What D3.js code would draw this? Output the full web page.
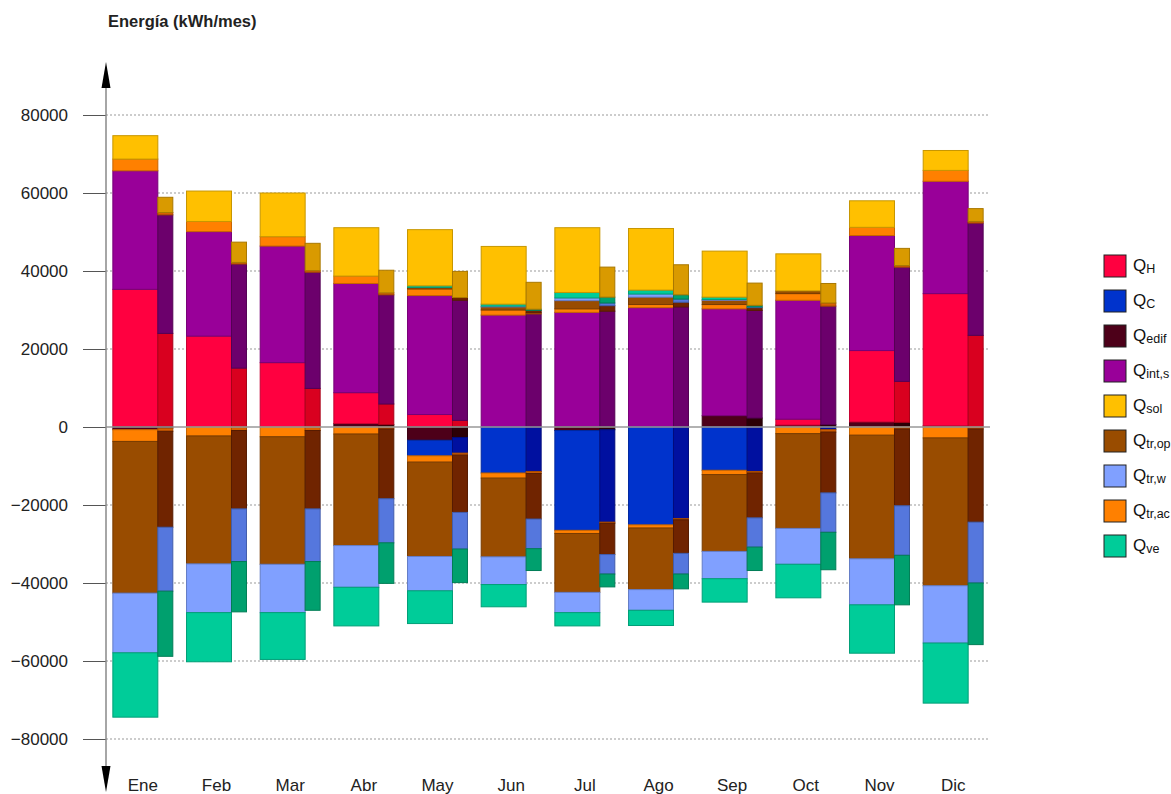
<!DOCTYPE html>
<html>
<head>
<meta charset="utf-8">
<script src="https://cdn.jsdelivr.net/npm/d3@7"></script>
<style>
  body { margin: 0; background: #fff; }
  svg { display: block; font-family: "Liberation Sans", Arial, sans-serif; }
</style>
</head>
<body>
<svg id="chart"></svg>
<script>
const months = ["Ene", "Feb", "Mar", "Abr", "May", "Jun", "Jul", "Ago", "Sep", "Oct", "Nov", "Dic"];
const yTicks = [-80000, -60000, -40000, -20000, 0, 20000, 40000, 60000, 80000];

// series keys and legend labels (Q + subscript)
const keys = ["QH", "QC", "Qedif", "Qint", "Qsol", "Qtrop", "Qtrw", "Qtrac", "Qve"];
const subs = ["H", "C", "edif", "int,s", "sol", "tr,op", "tr,w", "tr,ac", "ve"];
const mainColors = ["#ff0040", "#0033cc", "#4d0019", "#990099", "#ffc000", "#994c00", "#80a0ff", "#ff8000", "#00cc99"];
const sideColors = ["#d9001f", "#0010a0", "#2b0006", "#6c006c", "#d99a00", "#702400", "#5577dd", "#d86000", "#00a06e"];

// wide bar: gains (+) and losses (-), kWh/mes
const mainQH       = [35300, 23300, 16500, 7900, 3200, 0, 0, 0, 0, 1500, 18300, 33900];
const mainQC       = [0, 0, 0, 0, -4000, -11800, -25600, -25100, -11100, 0, 0, 0];
const mainQedifPos = [0, 0, 0, 900, 0, 0, 0, 0, 2900, 500, 1300, 300];
const mainQedifNeg = [-700, 0, 0, 0, -3400, 0, -900, 0, 0, 0, 0, 0];
const mainQint     = [30400, 26800, 29900, 28000, 30500, 28700, 29400, 30600, 27400, 30500, 29500, 28800];
const mainQsol     = [6000, 7800, 11200, 12400, 14400, 14800, 16600, 15800, 11800, 9500, 6800, 5100];
const mainQtropPos = [0, 0, 0, 0, 400, 800, 2100, 1900, 1100, 700, 0, 0];
const mainQtropNeg = [-38900, -32800, -32700, -28600, -24200, -20200, -15100, -15800, -19700, -24300, -31700, -37900];
const mainQtrwPos  = [0, 0, 0, 0, 0, 200, 700, 800, 200, 0, 0, 0];
const mainQtrwNeg  = [-15300, -12500, -12400, -10700, -8800, -7100, -5200, -5300, -7000, -9200, -11800, -14700];
const mainQtracPos = [3000, 2600, 2400, 1900, 1700, 1300, 900, 800, 1100, 1700, 2100, 2800];
const mainQtracNeg = [-3000, -2300, -2500, -1800, -1600, -1300, -800, -800, -1100, -1700, -2100, -2800];
const mainQvePos   = [0, 0, 0, 0, 400, 500, 1400, 1000, 600, 0, 0, 0];
const mainQveNeg   = [-16500, -12600, -12000, -9900, -8400, -5700, -3400, -3900, -6000, -8600, -12400, -15400];

// narrow bar: gains (+) and losses (-), kWh/mes
const sideQH       = [24000, 15100, 9900, 5300, 1700, 0, 0, 0, 0, 0, 10500, 23500];
const sideQC       = [0, 0, 0, 0, -4000, -11400, -23700, -23500, -11400, -700, 0, 0];
const sideQedifPos = [0, 0, 0, 600, 0, 0, 0, 0, 2300, 600, 1200, 0];
const sideQedifNeg = [-300, 0, 0, 0, -2700, 0, -700, 0, 0, 0, 0, 0];
const sideQint     = [30400, 26700, 29800, 28000, 30800, 29000, 29700, 30800, 27600, 30400, 29300, 28800];
const sideQsol     = [3900, 5200, 7000, 5800, 6700, 6900, 7700, 7700, 5700, 5000, 4400, 3300];
const sideQtropPos = [0, 0, 0, 0, 700, 600, 1400, 1200, 700, 0, 0, 0];
const sideQtropNeg = [-24600, -20100, -20100, -17900, -14700, -11700, -8000, -8600, -11500, -15600, -19700, -23900];
const sideQtrwPos  = [0, 0, 0, 0, 0, 0, 700, 800, 200, 0, 0, 0];
const sideQtrwNeg  = [-16400, -13500, -13500, -11300, -9400, -7600, -5000, -5300, -7500, -10100, -12700, -15600];
const sideQtracPos = [600, 400, 400, 500, 0, 300, 0, 0, 0, 800, 400, 400];
const sideQtracNeg = [-800, -900, -900, -500, -500, -500, -300, -300, -400, -600, -500, -500];
const sideQvePos   = [0, 0, 0, 0, 0, 300, 1500, 1100, 400, 0, 0, 0];
const sideQveNeg   = [-16700, -12900, -12500, -10400, -8600, -5600, -3300, -3800, -6000, -9600, -12700, -15800];

const width = 1171, height = 794;
const svg = d3.select("#chart").attr("width", width).attr("height", height);

const x = d3.scaleBand().domain(months).range([106, 990]).paddingInner(0.186).paddingOuter(0.093);
const y = d3.scaleLinear().domain([-80000, 80000]).range([739, 115]);

const posOrder = ["Qedif", "QH", "Qint", "Qtrac", "Qtrop", "Qtrw", "Qve", "Qsol"];
const negOrder = ["Qedif", "QC", "Qtrac", "Qtrop", "Qtrw", "Qve"];

function makeRows(gain, loss) {
    return months.map((m, i) => {
        const r = { month: m };
        keys.forEach(k => {
            r[k + "+"] = gain[k] ? gain[k][i] : 0;
            r[k + "-"] = loss[k] ? loss[k][i] : 0;
        });
        return r;
    });
}

const mainRows = makeRows(
    { QH: mainQH, Qedif: mainQedifPos, Qint: mainQint, Qsol: mainQsol, Qtrop: mainQtropPos, Qtrw: mainQtrwPos, Qtrac: mainQtracPos, Qve: mainQvePos },
    { QC: mainQC, Qedif: mainQedifNeg, Qtrop: mainQtropNeg, Qtrw: mainQtrwNeg, Qtrac: mainQtracNeg, Qve: mainQveNeg }
);
const sideRows = makeRows(
    { QH: sideQH, Qedif: sideQedifPos, Qint: sideQint, Qsol: sideQsol, Qtrop: sideQtropPos, Qtrw: sideQtrwPos, Qtrac: sideQtracPos, Qve: sideQvePos },
    { QC: sideQC, Qedif: sideQedifNeg, Qtrop: sideQtropNeg, Qtrw: sideQtrwNeg, Qtrac: sideQtracNeg, Qve: sideQveNeg }
);

const posStack = d3.stack().keys(posOrder).value((d, k) => d[k + "+"]);
const negStack = d3.stack().keys(negOrder).value((d, k) => d[k + "-"]).offset(d3.stackOffsetDiverging);

// gridlines (dotted, behind the bars)
svg.append("g").selectAll("line")
    .data(yTicks.filter(t => t !== 0))
    .join("line")
    .attr("x1", 106).attr("x2", 990)
    .attr("y1", d => y(d)).attr("y2", d => y(d))
    .attr("stroke", "#999").attr("stroke-width", 1)
    .attr("stroke-dasharray", "2,2");

// y axis ticks and labels
const yAxis = svg.append("g")
    .attr("transform", "translate(106,0)")
    .call(d3.axisLeft(y).tickValues(yTicks).tickFormat(d3.format("d")).tickSize(23).tickPadding(15));
yAxis.select(".domain").remove();
yAxis.selectAll(".tick line").attr("stroke", "#555");
yAxis.selectAll(".tick text")
    .attr("fill", "#222")
    .style("font-size", "17px")
    .style("font-family", "'Liberation Sans', Arial, sans-serif");

const bw = x.bandwidth();
const colorOf = (cols, k) => cols[keys.indexOf(k)];

function drawBars(rows, cols, offset, w, cls) {
    const layers = posStack(rows).concat(negStack(rows));
    const g = svg.append("g").attr("class", cls);
    layers.forEach(layer => {
        const c = colorOf(cols, layer.key);
        g.append("g")
            .selectAll("rect")
            .data(layer.filter(d => d[1] !== d[0]))
            .join("rect")
            .attr("x", d => x(d.data.month) + offset)
            .attr("y", d => y(Math.max(d[0], d[1])))
            .attr("width", w)
            .attr("height", d => Math.abs(y(d[0]) - y(d[1])))
            .attr("fill", c)
            .attr("stroke", d3.color(c).darker(0.7))
            .attr("stroke-width", 1);
    });
}

drawBars(mainRows, mainColors, 0, bw * 0.75, "main");
drawBars(sideRows, sideColors, bw * 0.75, bw * 0.25, "side");

// zero line on top of bars
svg.append("line")
    .attr("x1", 106).attr("x2", 990)
    .attr("y1", y(0)).attr("y2", y(0))
    .attr("stroke", "#999").attr("stroke-width", 1.5);

// vertical axis with arrows
const arrowTop = y(80000) - 53, arrowBottom = y(-80000) + 53;
svg.append("line")
    .attr("x1", 106).attr("x2", 106)
    .attr("y1", arrowTop + 10).attr("y2", arrowBottom - 10)
    .attr("stroke", "#888").attr("stroke-width", 1.5);
svg.append("path")
    .attr("d", `M106,${arrowTop} L110.5,${arrowTop + 26} L101.5,${arrowTop + 26} Z`)
    .attr("fill", "#000");
svg.append("path")
    .attr("d", `M106,${arrowBottom} L110.5,${arrowBottom - 26} L101.5,${arrowBottom - 26} Z`)
    .attr("fill", "#000");

// month labels
svg.append("g").selectAll("text")
    .data(months)
    .join("text")
    .attr("x", d => x(d) + bw / 2)
    .attr("y", 791)
    .attr("text-anchor", "middle")
    .attr("fill", "#222")
    .style("font-size", "17px")
    .text(d => d);

// title
svg.append("text")
    .attr("x", 108).attr("y", 27)
    .attr("fill", "#222")
    .style("font-size", "16.5px")
    .style("font-weight", "bold")
    .text("Energía (kWh/mes)");

// legend
const legend = svg.append("g").attr("transform", "translate(1104,255)");
const items = legend.selectAll("g")
    .data(keys)
    .join("g")
    .attr("transform", (d, i) => `translate(0,${i * 35})`);
items.append("rect")
    .attr("width", 22).attr("height", 22)
    .attr("fill", (d, i) => mainColors[i])
    .attr("stroke", "#222").attr("stroke-width", 1);
const lt = items.append("text")
    .attr("x", 29).attr("y", 16)
    .attr("fill", "#111")
    .style("font-size", "17px");
lt.append("tspan").text("Q");
lt.append("tspan")
    .attr("dy", 2)
    .style("font-size", "12.5px")
    .text((d, i) => subs[i]);
</script>
</body>
</html>
